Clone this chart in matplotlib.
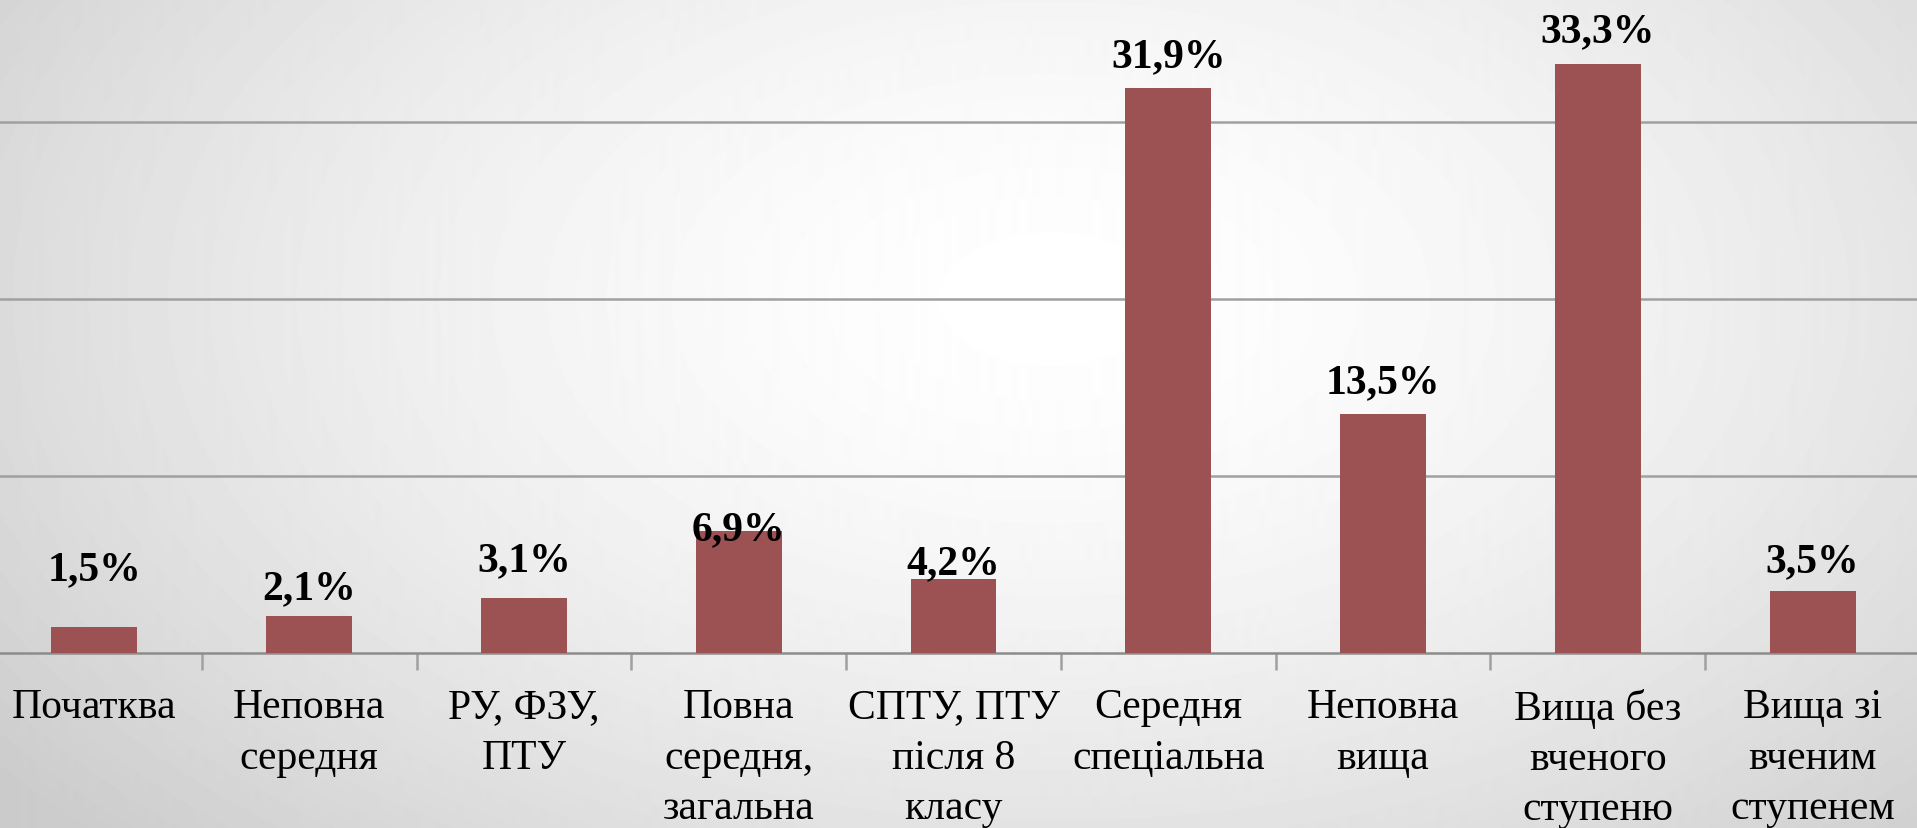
import numpy as np
import matplotlib
matplotlib.use("Agg")
import matplotlib.pyplot as plt

# data
categories = ["Початква", "Неповна\nсередня", "РУ, ФЗУ,\nПТУ", "Повна\nсередня,\nзагальна",
              "СПТУ, ПТУ\nпісля 8\nкласу", "Середня\nспеціальна", "Неповна\nвища",
              "Вища без\nвченого\nступеню", "Вища зі\nвченим\nступенем"]
values = [1.5, 2.1, 3.1, 6.9, 4.2, 31.9, 13.5, 33.3, 3.5]
labels = ["1,5%", "2,1%", "3,1%", "6,9%", "4,2%", "31,9%", "13,5%", "33,3%", "3,5%"]
# label offsets above bar tops (points), as placed in the original
label_dy = [34, 13, 20, -6, 4, 16, 16, 16, 14]

serif = ['Liberation Serif', 'DejaVu Serif']
plt.rcParams['font.family'] = serif

fig = plt.figure(figsize=(19.17, 8.29), dpi=100)

# radial background gradient
bg = fig.add_axes([0, 0, 1, 1], zorder=0)
yy, xx = np.mgrid[0:829, 0:1917]
r = np.sqrt(((xx - 1050) / 1100.0) ** 2 + ((yy - 300) / 650.0) ** 2)
shade = 1.0 - 0.15 * np.clip(r, 0, 1.2) ** 1.6
bg.imshow(shade, cmap='gray', vmin=0, vmax=1, aspect='auto', extent=[0, 1, 0, 1])
bg.axis('off')

ax = fig.add_axes([-13 / 1917, 0.211, 1933 / 1917, 708 / 829], zorder=1)
ax.patch.set_alpha(0)
x = np.arange(len(categories))
ax.bar(x, values, width=0.4, color='#9c5153', zorder=3)
ax.set_xlim(-0.5, len(categories) - 0.5)
ax.set_ylim(0, 40)
ax.set_yticks([10, 20, 30, 40])
ax.yaxis.grid(True, color='#a0a0a0', linewidth=1.8)
ax.set_axisbelow(True)
ax.tick_params(axis='y', left=False, labelleft=False)

for s in ['top', 'right', 'left']:
    ax.spines[s].set_visible(False)
ax.spines['bottom'].set_color('#8c8c8c')
ax.spines['bottom'].set_linewidth(1.8)

ax.set_xticks(x)
ax.set_xticklabels(categories, fontsize=30, linespacing=1.4, family=serif)
ax.tick_params(axis='x', length=0, pad=25)
ax.set_xticks(np.arange(0.5, len(categories) - 0.5), minor=True)
ax.tick_params(axis='x', which='minor', length=12, width=1.8, color='#a0a0a0')

for xi, v, lab, dy in zip(x, values, labels, label_dy):
    ax.annotate(lab, (xi, v), xytext=(0, dy), textcoords='offset points',
                ha='center', va='baseline', fontsize=30, fontweight='bold', family=serif)

fig.savefig('out.png', dpi=100)
